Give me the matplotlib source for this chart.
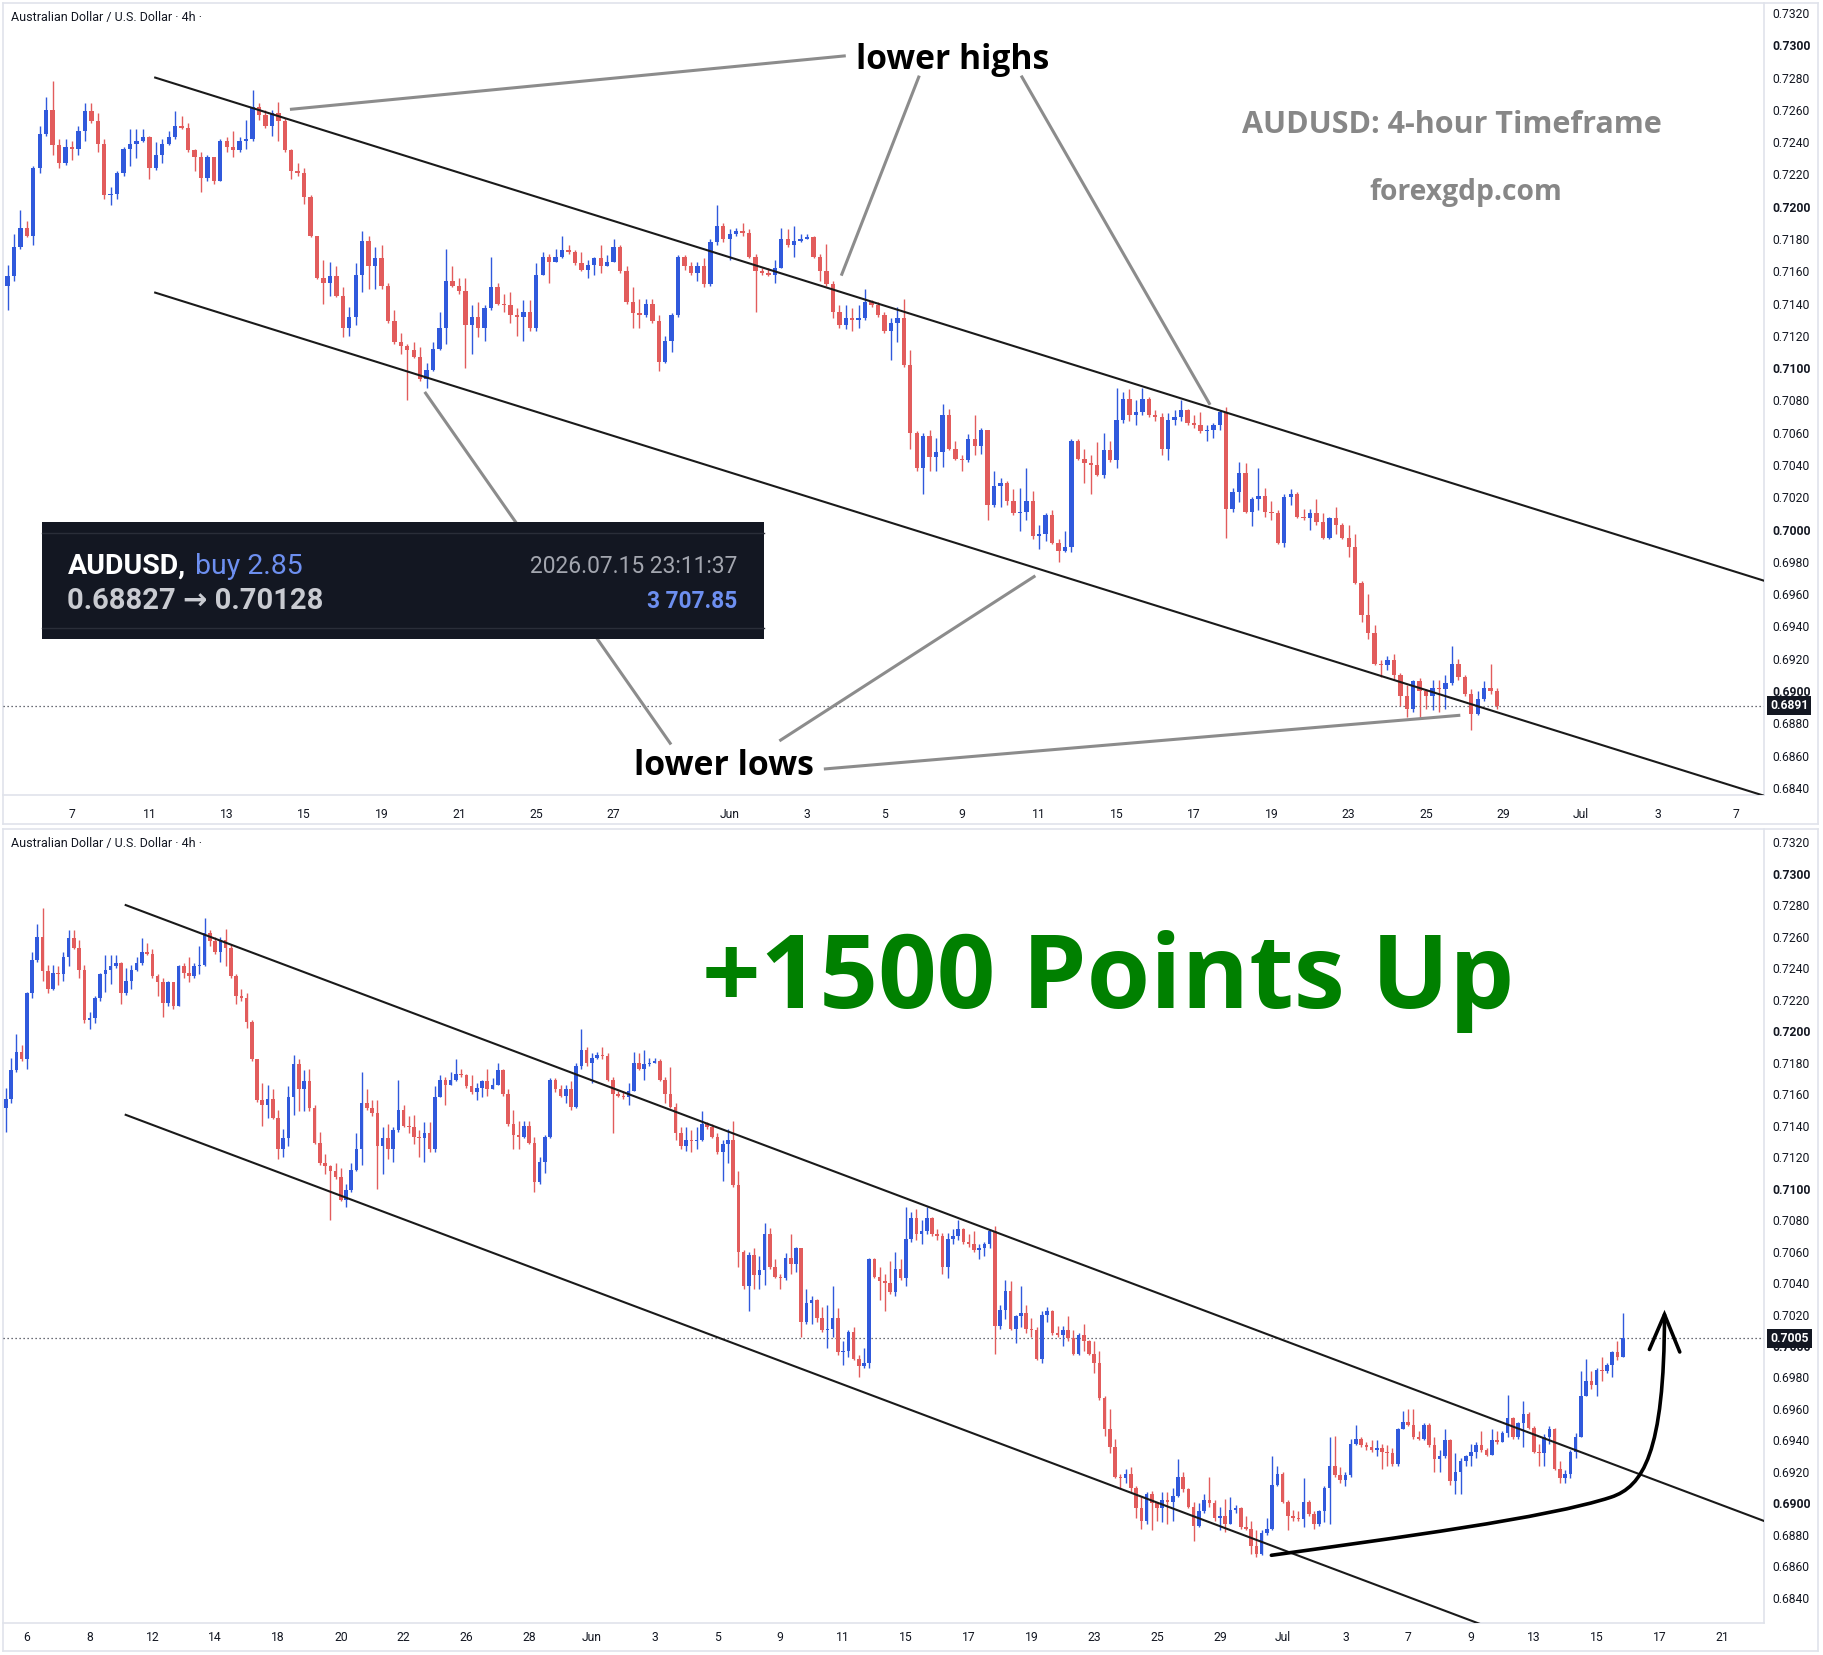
import numpy as np
import pandas as pd
import matplotlib
matplotlib.use("Agg")
import matplotlib.pyplot as plt
import matplotlib.transforms as mtrans
from matplotlib.path import Path
from matplotlib.patches import PathPatch, Rectangle

plt.rcParams['font.family'] = ['Roboto', 'DejaVu Sans']

# ---------------- data (AUDUSD 4h, prices x 10000) ----------------
first_open_p = 7151
close_p = [
 7157,7175,7187,7182,7224,7245,7260,7238,7227,7237,7236,7247,7259,7253,7239,7207,7208,7221,7236,7239,
 7241,7243,7224,7232,7239,7243,7250,7249,7235,7231,7218,7231,7216,7241,7237,7235,7241,7242,7262,7257,
 7250,7258,7253,7235,7222,7221,7206,7182,7156,7153,7157,7145,7125,7132,7158,7179,7163,7168,7151,7129,
 7116,7114,7111,7107,7093,7099,7112,7125,7154,7151,7148,7127,7132,7125,7137,7150,7140,7139,7133,7132,
 7135,7125,7158,7169,7166,7169,7173,7172,7165,7161,7164,7168,7163,7166,7175,7160,7141,7134,7133,7140,
 7129,7104,7117,7133,7169,7163,7159,7163,7152,7178,7188,7180,7183,7185,7184,7169,7160,7159,7158,7162,
 7180,7176,7179,7180,7181,7169,7160,7152,7135,7127,7131,7130,7131,7141,7139,7133,7123,7128,7131,7102,
 7060,7038,7058,7045,7048,7071,7050,7044,7043,7056,7052,7062,7015,7027,7029,7018,7010,7011,7018,6996,
 6997,7009,6992,6987,6989,7055,7044,7041,7040,7034,7049,7043,7068,7081,7071,7073,7081,7071,7070,7050,
 7068,7070,7074,7066,7065,7061,7062,7065,7073,7013,7023,7035,7011,7019,7021,7011,7010,6992,7020,7022,
 7008,7007,7010,7005,6995,7007,7003,6995,6989,6967,6947,6936,6917,6916,6919,6910,6897,6889,6906,6900,
 6897,6902,6901,6905,6917,6909,6898,6886,6895,6902,6900,6891,6892,6887,6896,6897,6885,6884,6873,6868,
 6881,6884,6912,6919,6901,6892,6891,6890,6901,6893,6887,6895,6910,6924,6918,6915,6918,6938,6941,6937,
 6936,6934,6935,6933,6932,6925,6947,6952,6950,6942,6941,6950,6937,6928,6930,6940,6914,6920,6927,6930,
 6933,6937,6934,6931,6940,6939,6945,6954,6942,6951,6957,6948,6933,6932,6942,6947,6922,6916,6919,6933,
 6942,6968,6978,6975,6985,6984,6988,6996,6993,7005]
high_p = [
 7164,7183,7198,7191,7225,7250,7268,7278,7242,7242,7241,7250,7264,7264,7258,7242,7212,7222,7237,7248,
 7248,7248,7244,7240,7242,7247,7259,7256,7252,7236,7234,7232,7231,7242,7243,7247,7243,7254,7272,7264,
 7260,7260,7265,7255,7236,7227,7224,7207,7182,7167,7166,7163,7150,7138,7165,7185,7182,7175,7176,7153,
 7136,7122,7115,7116,7113,7103,7116,7135,7174,7163,7156,7156,7139,7141,7139,7169,7153,7146,7147,7137,
 7142,7142,7165,7172,7171,7174,7182,7176,7173,7172,7167,7169,7176,7170,7180,7176,7163,7150,7143,7143,
 7143,7133,7120,7134,7170,7170,7166,7166,7168,7180,7201,7190,7186,7187,7190,7186,7171,7162,7162,7167,
 7187,7186,7188,7183,7183,7182,7171,7177,7154,7139,7139,7137,7139,7149,7142,7141,7135,7131,7138,7143,
 7111,7061,7060,7062,7057,7078,7075,7055,7046,7059,7071,7063,7062,7036,7032,7030,7025,7026,7038,7024,
 7003,7010,7012,6994,6999,7056,7056,7050,7046,7054,7060,7055,7088,7085,7087,7080,7088,7082,7074,7072,
 7072,7074,7080,7075,7071,7073,7065,7066,7074,7076,7026,7042,7041,7020,7038,7026,7018,7012,7022,7025,
 7023,7013,7013,7019,7010,7008,7014,7004,7003,6997,6968,6960,6941,6919,6922,6923,6911,6904,6907,6908,
 6901,6907,6907,6910,6928,6920,6910,6901,6900,6906,6917,6902,6898,6903,6904,6899,6898,6892,6889,6883,
 6883,6891,6930,6924,6920,6902,6896,6895,6916,6902,6895,6896,6911,6942,6943,6923,6920,6941,6950,6942,
 6939,6940,6940,6938,6937,6935,6948,6959,6960,6960,6946,6951,6951,6942,6934,6947,6941,6932,6929,6931,
 6938,6939,6946,6935,6947,6946,6946,6969,6955,6952,6965,6958,6949,6938,6944,6949,6948,6927,6921,6934,
 6945,6984,6992,6984,6986,6993,6989,6997,7003,7021]
low_p = [
 7136,7154,7174,7181,7176,7221,7244,7232,7224,7226,7229,7232,7241,7252,7234,7205,7201,7205,7219,7225,
 7230,7240,7217,7223,7227,7238,7242,7248,7234,7222,7209,7216,7214,7216,7234,7231,7234,7236,7241,7254,
 7249,7244,7241,7234,7217,7219,7202,7181,7155,7140,7145,7144,7119,7120,7127,7147,7149,7149,7149,7128,
 7115,7109,7080,7106,7092,7088,7098,7111,7115,7150,7146,7100,7109,7119,7117,7136,7139,7135,7128,7120,
 7117,7123,7123,7158,7153,7167,7168,7171,7164,7160,7156,7158,7159,7163,7166,7159,7140,7125,7125,7132,
 7128,7098,7103,7110,7132,7161,7158,7154,7150,7151,7176,7178,7167,7182,7182,7168,7135,7158,7157,7153,
 7162,7175,7169,7178,7180,7168,7154,7151,7131,7125,7124,7123,7125,7130,7138,7132,7122,7105,7116,7101,
 7050,7036,7022,7036,7036,7039,7049,7043,7036,7042,7046,7047,7006,7014,7014,7015,7009,6999,7006,6994,
 6988,6993,6991,6980,6986,6986,7043,7029,7022,7033,7032,7042,7038,7066,7067,7065,7071,7070,7067,7046,
 7043,7065,7067,7065,7063,7060,7055,7057,7062,6995,7011,7017,7010,7002,7012,7008,7006,6991,6989,7015,
 7007,7006,7000,7003,6994,6994,6997,6994,6983,6966,6943,6932,6916,6909,6913,6907,6891,6884,6887,6883,
 6889,6888,6887,6889,6904,6907,6897,6876,6885,6894,6898,6889,6883,6882,6887,6894,6884,6883,6868,6866,
 6867,6880,6883,6911,6900,6883,6889,6889,6885,6892,6884,6886,6888,6887,6917,6913,6911,6917,6937,6936,
 6934,6933,6930,6922,6924,6924,6924,6947,6949,6941,6940,6940,6936,6920,6920,6929,6912,6906,6906,6924,
 6924,6929,6933,6930,6931,6938,6939,6942,6941,6941,6936,6947,6932,6924,6924,6938,6921,6913,6913,6916,
 6929,6942,6968,6973,6968,6978,6983,6980,6991,6993]

last_top_candle = 231          # top panel ends Fri 26 Jun
top_last_price = 0.6891
bot_last_price = 0.7005

first_day = '2026-05-06'        # first full trading day (4 candles of 5 May precede it)
top_tick_dates = ['2026-05-07','2026-05-11','2026-05-13','2026-05-15','2026-05-19','2026-05-21',
                  '2026-05-25','2026-05-27','2026-06-01','2026-06-03','2026-06-05','2026-06-09',
                  '2026-06-11','2026-06-15','2026-06-17','2026-06-19','2026-06-23','2026-06-25',
                  '2026-06-29','2026-07-01','2026-07-03','2026-07-07']
top_tick_labels = ['7','11','13','15','19','21','25','27','Jun','3','5','9','11','15','17','19',
                   '23','25','29','Jul','3','7']
bot_tick_dates = ['2026-05-06','2026-05-08','2026-05-12','2026-05-14','2026-05-18','2026-05-20',
                  '2026-05-22','2026-05-26','2026-05-28','2026-06-01','2026-06-03','2026-06-05',
                  '2026-06-09','2026-06-11','2026-06-15','2026-06-17','2026-06-19','2026-06-23',
                  '2026-06-25','2026-06-29','2026-07-01','2026-07-03','2026-07-07','2026-07-09',
                  '2026-07-13','2026-07-15','2026-07-17','2026-07-21']
bot_tick_labels = ['6','8','12','14','18','20','22','26','28','Jun','3','5','9','11','15','17','19',
                   '23','25','29','Jul','3','7','9','13','15','17','21']
price_ticks = [0.6840,0.6860,0.6880,0.6900,0.6920,0.6940,0.6960,0.6980,0.7000,0.7020,0.7040,0.7060,
               0.7080,0.7100,0.7120,0.7140,0.7160,0.7180,0.7200,0.7220,0.7240,0.7260,0.7280,0.7300,0.7320]

# channel (candle index, price)
upper_line = ([22.9, 340.0], [0.72800, 0.68839])
lower_line = ([22.9, 340.0], [0.71468, 0.67507])

# top-panel annotation pointers (candle index, price)
highs_label = (146.6, 0.72912)
highs_ptrs = [((130.0, 0.72935), (43.8, 0.72603)),
              ((141.4, 0.72812), (129.3, 0.71573)),
              ((157.2, 0.72812), (186.5, 0.70773))]
lows_label = (111.1, 0.68533)
lows_ptrs = [((102.9, 0.68669), (64.7, 0.70853)),
             ((119.7, 0.68691), (159.4, 0.69714)),
             ((126.6, 0.68517), (225.3, 0.68850))]
title_pos = (224.0, 0.72509)
site_pos = (226.2, 0.72086)
big_label_pos = (210.6, 0.72147)
# curved arrow: two cubic Bezier segments (start, ctrl, ctrl, joint, ctrl, ctrl, tip)
arrow_curve = [(241.85, 0.68671), (265.63, 0.68782), (294.53, 0.68907), (306.77, 0.69040),
               (312.77, 0.69107), (316.98, 0.69314), (316.98, 0.70200)]
arrow_head = [(314.1, 0.69978), (316.98, 0.70200), (319.9, 0.69962)]

# ---------------- derived series ----------------
close = np.array(close_p) / 10000.0
high = np.array(high_p) / 10000.0
low = np.array(low_p) / 10000.0
open_ = np.r_[first_open_p / 10000.0, close[:-1]]
high = np.maximum(high, np.maximum(open_, close))
low = np.minimum(low, np.minimum(open_, close))
idx = np.arange(len(close))

bdays = pd.bdate_range(first_day, '2026-09-30')
pos_of = {d.strftime('%Y-%m-%d'): 4 + 6 * k for k, d in enumerate(bdays)}

BLUE = '#3059dc'
RED = '#e25c5c'
TXT = '#131722'
GRID = '#e0e3eb'

W, H = 1824, 1655
fig = plt.figure(figsize=(W / 100, H / 100), dpi=100)
fig.patch.set_facecolor('white')


def rect(x0, y0, x1, y1):
    return [x0 / W, 1 - y1 / H, (x1 - x0) / W, (y1 - y0) / H]


def frame(x0, y0, x1, y1):
    a = fig.add_axes(rect(x0, y0, x1, y1), zorder=0)
    a.set_xticks([]); a.set_yticks([])
    for s in a.spines.values():
        s.set_color(GRID); s.set_linewidth(1.2)
    return a


def chart(box, n, xlim, ylim, tick_dates, tick_labels, xpad, last_price):
    ax = fig.add_axes(rect(*box), zorder=1)
    ax.set_facecolor('none')
    ax.set_xlim(*xlim); ax.set_ylim(*ylim)
    for k in ['left', 'top']:
        ax.spines[k].set_visible(False)
    for k in ['right', 'bottom']:
        ax.spines[k].set_color(GRID); ax.spines[k].set_linewidth(1.2)
    o, c, h, l, i = open_[:n], close[:n], high[:n], low[:n], idx[:n]
    cols = np.where(c >= o, BLUE, RED)
    ax.vlines(i, l, h, colors=cols, linewidth=1.0, zorder=2)
    body = np.maximum(np.abs(c - o), 0.00004)
    ax.bar(i, body, bottom=np.minimum(o, c), width=0.68, color=cols, linewidth=0, zorder=2)
    ax.yaxis.tick_right()
    ax.set_yticks(price_ticks)
    ax.set_yticklabels([f'{p:.4f}' for p in price_ticks])
    for t, p in zip(ax.get_yticklabels(), price_ticks):
        if round(p * 10000) % 100 == 0:
            t.set_fontweight('bold')
    ax.tick_params(axis='y', length=0, pad=6, labelsize=8.7, labelcolor=TXT)
    ax.set_xticks([pos_of[d] for d in tick_dates])
    ax.set_xticklabels(tick_labels)
    ax.tick_params(axis='x', length=0, pad=xpad, labelsize=8.7, labelcolor=TXT)
    ax.axhline(last_price, color='#3b3f4a', linestyle=(0, (1, 2.2)), linewidth=0.9, zorder=1)
    tr = mtrans.blended_transform_factory(ax.transAxes, ax.transData)
    ax.text(1.0 + 6 / 1761, last_price, f'{last_price:.4f}', transform=tr, ha='left', va='center',
            fontsize=8.7, color='white', fontweight='bold', zorder=10, clip_on=False,
            bbox=dict(boxstyle='square,pad=0.25', fc='#131722', ec='none'))
    ax.text(8 / 1761, 0.982, 'Australian Dollar / U.S. Dollar · 4h ·', transform=ax.transAxes,
            ha='left', va='center', fontsize=9.0, color=TXT)
    return ax


# ---------------- top panel ----------------
frame(3, 3, 1818, 824)
ax1 = chart((3, 3, 1764, 795), last_top_candle + 1, (-0.70, 272.4), (0.68356, 0.73262),
            top_tick_dates, top_tick_labels, 9, top_last_price)
ax1.plot(upper_line[0], upper_line[1], color='#1a1a1a', lw=1.5, zorder=3)
ax1.plot(lower_line[0], lower_line[1], color='#1a1a1a', lw=1.5, zorder=3)
PTR = '#8c8c8c'
for (a, b) in highs_ptrs + lows_ptrs:
    ax1.plot([a[0], b[0]], [a[1], b[1]], color=PTR, lw=2.2, zorder=4, solid_capstyle='butt')
bold = dict(family=['Open Sans', 'DejaVu Sans'], fontweight='bold')
ax1.text(*highs_label, 'lower highs', ha='center', va='center', fontsize=24.2, color='black', zorder=6, **bold)
ax1.text(*lows_label, 'lower lows', ha='center', va='center', fontsize=24.4, color='black', zorder=6, **bold)
ax1.text(*title_pos, 'AUDUSD: 4-hour Timeframe', ha='center', va='center', fontsize=22,
         color='#878787', zorder=6, **bold)
ax1.text(*site_pos, 'forexgdp.com', ha='center', va='center', fontsize=20.3, color='#878787', zorder=6, **bold)

# info widget (axes-fraction coordinates)
bx0, by0, bx1, by1 = 0.02209, 0.1975, 0.4323, 0.3443
ax1.add_patch(Rectangle((bx0, by0), bx1 - bx0, by1 - by0, transform=ax1.transAxes,
                        facecolor='#131722', edgecolor='none', zorder=8, clip_on=False))
ax1.plot([bx0, bx1], [by1 - 0.013, by1 - 0.013], transform=ax1.transAxes, color='#2a2e39', lw=1, zorder=8.5)
ax1.plot([bx0, bx1], [by0 + 0.013, by0 + 0.013], transform=ax1.transAxes, color='#2a2e39', lw=1, zorder=8.5)
ax1.text(0.0366, 0.2890, 'AUDUSD,', transform=ax1.transAxes, ha='left', va='center', fontsize=20.5,
         color='white', fontweight='bold', zorder=9)
ax1.text(0.1088, 0.2890, 'buy 2.85', transform=ax1.transAxes, ha='left', va='center', fontsize=20.5,
         color='#6d8ff0', zorder=9)
ax1.text(0.0366, 0.2447, '0.68827 → 0.70128', transform=ax1.transAxes, ha='left', va='center',
         fontsize=21, color='#c9cbd1', fontweight='bold', zorder=9)
ax1.text(0.4171, 0.2890, '2026.07.15 23:11:37', transform=ax1.transAxes, ha='right', va='center',
         fontsize=16.4, color='#a3a6af', zorder=9)
ax1.text(0.4171, 0.2447, '3 707.85', transform=ax1.transAxes, ha='right', va='center',
         fontsize=16.3, color='#6d8ff0', fontweight='bold', zorder=9)

# ---------------- bottom panel ----------------
frame(3, 829, 1818, 1651)
ax2 = chart((3, 829, 1764, 1623), len(close), (-0.55, 336.0), (0.68241, 0.73283),
            bot_tick_dates, bot_tick_labels, 6, bot_last_price)
ax2.plot(upper_line[0], upper_line[1], color='#1a1a1a', lw=1.5, zorder=3)
ax2.plot(lower_line[0], lower_line[1], color='#1a1a1a', lw=1.5, zorder=3)
ax2.text(*big_label_pos, '+1500 Points Up', ha='center', va='baseline', fontsize=74,
         color='#008000', zorder=6, **bold)
codes = [Path.MOVETO, Path.CURVE4, Path.CURVE4, Path.CURVE4, Path.CURVE4, Path.CURVE4, Path.CURVE4]
ax2.add_patch(PathPatch(Path(arrow_curve, codes), facecolor='none', edgecolor='black', lw=2.6,
                        zorder=6, capstyle='round'))
ax2.plot([p[0] for p in arrow_head], [p[1] for p in arrow_head], color='black', lw=2.6, zorder=6,
         solid_joinstyle='miter', solid_capstyle='round')

fig.savefig('out.png', dpi=100, facecolor='white')
